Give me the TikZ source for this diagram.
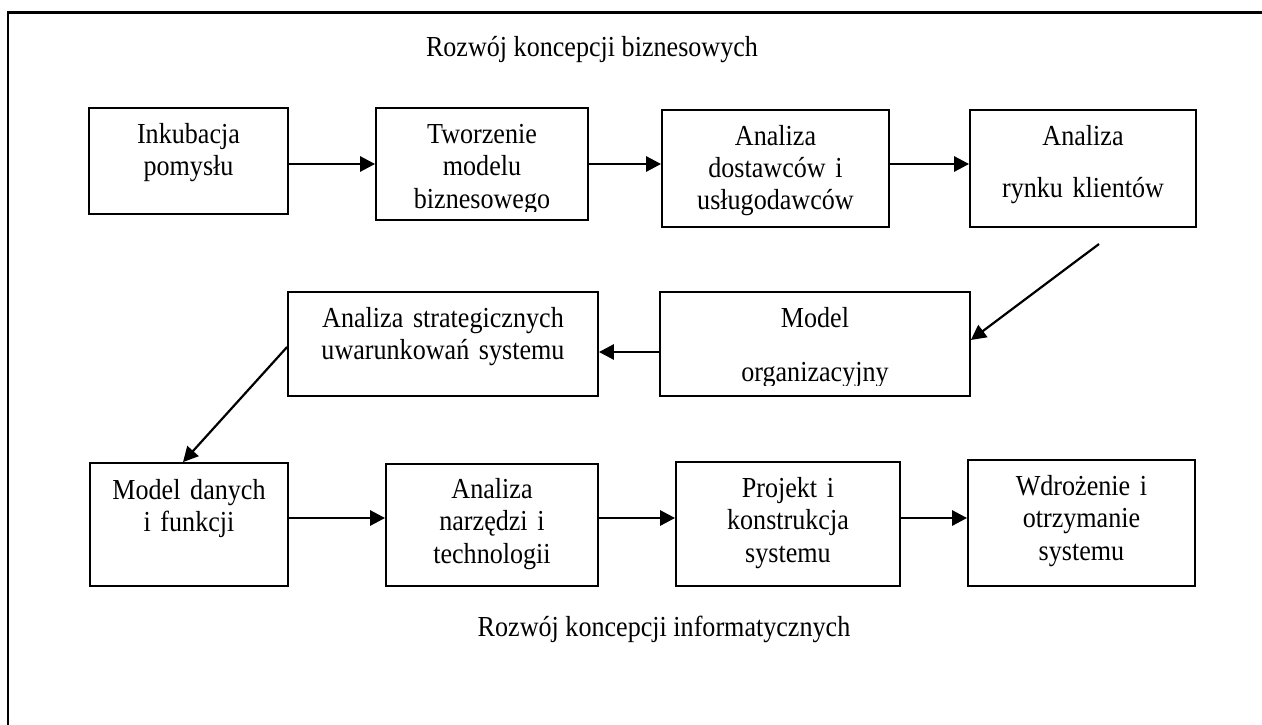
\documentclass[tikz,border=0pt]{standalone}
\usepackage{fontspec}
\setmainfont{Liberation Serif}[FakeStretch=0.9]
\usetikzlibrary{arrows.meta}
\begin{document}
\begin{tikzpicture}[x=1pt,y=-1pt,
  box/.style={draw, line width=1.8pt, inner sep=0pt},
  txt/.style={font=\fontsize{29}{32.5}\selectfont, align=center,
              anchor=base, inner sep=0pt, text width=#1},
  txt/.default=190pt,
  title/.style={font=\fontsize{29}{32.5}\selectfont, anchor=base, inner sep=0pt},
  link/.style={line width=2.8pt, -{Triangle[length=15pt,width=15pt]}},
  slant/.style={line width=2.2pt, -{Triangle[length=15pt,width=15pt]}}]

\useasboundingbox (0,0) rectangle (1262,725);
\fill[white] (0,0) rectangle (1262,725);

% outer frame: top and left edges
\draw[line width=3pt] (7,13) -- (1262,13);
\draw[line width=2.2pt] (8,12) -- (8,725);

% headings
\node[title] (h1) at (592,57) {Rozwój koncepcji biznesowych};
\node[title] (h2) at (664,636) {Rozwój koncepcji informatycznych};

% row 1
\node[box, minimum width=199pt, minimum height=106pt] (b1) at (188.5,161) {};
\node[box, minimum width=212pt, minimum height=112pt] (b2) at (482,164) {};
\node[box, minimum width=227pt, minimum height=117pt] (b3) at (775.5,168.5) {};
\node[box, minimum width=226pt, minimum height=117pt] (b4) at (1083,168.5) {};
% row 2
\node[box, minimum width=310pt, minimum height=104pt] (b5) at (443,344) {};
\node[box, minimum width=310pt, minimum height=104pt] (b6) at (815,344) {};
% row 3
\node[box, minimum width=198pt, minimum height=123pt] (b7) at (189,524.5) {};
\node[box, minimum width=212pt, minimum height=122pt] (b8) at (492,525) {};
\node[box, minimum width=224pt, minimum height=124pt] (b9) at (788,524) {};
\node[box, minimum width=227pt, minimum height=126pt] (b10) at (1081.5,523) {};

% box texts (the text frames of b2 and b6 cut off the descenders of their last line)
\node[txt] (t1) at (188.5,143) {Inkubacja\\pomysłu};
\begin{scope}
  \clip (378,110) rectangle (586,211);
  \node[txt] (t2) at (482,143) {Tworzenie\\modelu\\biznesowego};
\end{scope}
\node[txt=210pt] (t3) at (775.5,145) {Analiza\\dostawców i\\usługodawców};
\node[txt=210pt] (t4) at (1083,145) {Analiza\\[20pt]rynku klientów};
\node[txt=290pt] (t5) at (443,327) {Analiza strategicznych\\uwarunkowań systemu};
\begin{scope}
  \clip (662,294) rectangle (968,385);
  \node[txt=290pt] (t6) at (815,327) {Model\\[22pt]organizacyjny};
\end{scope}
\node[txt] (t7) at (189,499) {Model danych\\i funkcji};
\node[txt] (t8) at (492,498) {Analiza\\narzędzi i\\technologii};
\node[txt=210pt] (t9) at (788,497) {Projekt i\\konstrukcja\\systemu};
\node[txt=210pt] (t10) at (1081.5,495) {Wdrożenie i\\otrzymanie\\systemu};

% connector levels
\coordinate (r1) at (0,164);
\coordinate (r2) at (0,352);
\coordinate (r3) at (0,518);
\coordinate (d1) at (1099,244);
\coordinate (d1e) at (0,340);
\coordinate (d2s) at (0,347);
\coordinate (d2e) at (183,0);

% connectors
\draw[link] (b1.east |- r1) -- (b2.west |- r1);
\draw[link] (b2.east |- r1) -- (b3.west |- r1);
\draw[link] (b3.east |- r1) -- (b4.west |- r1);
\draw[slant] (d1) -- (b6.east |- d1e);
\draw[link] (b6.west |- r2) -- (b5.east |- r2);
\draw[slant] (b5.west |- d2s) -- (b7.north -| d2e);
\draw[link] (b7.east |- r3) -- (b8.west |- r3);
\draw[link] (b8.east |- r3) -- (b9.west |- r3);
\draw[link] (b9.east |- r3) -- (b10.west |- r3);
\end{tikzpicture}
\end{document}
